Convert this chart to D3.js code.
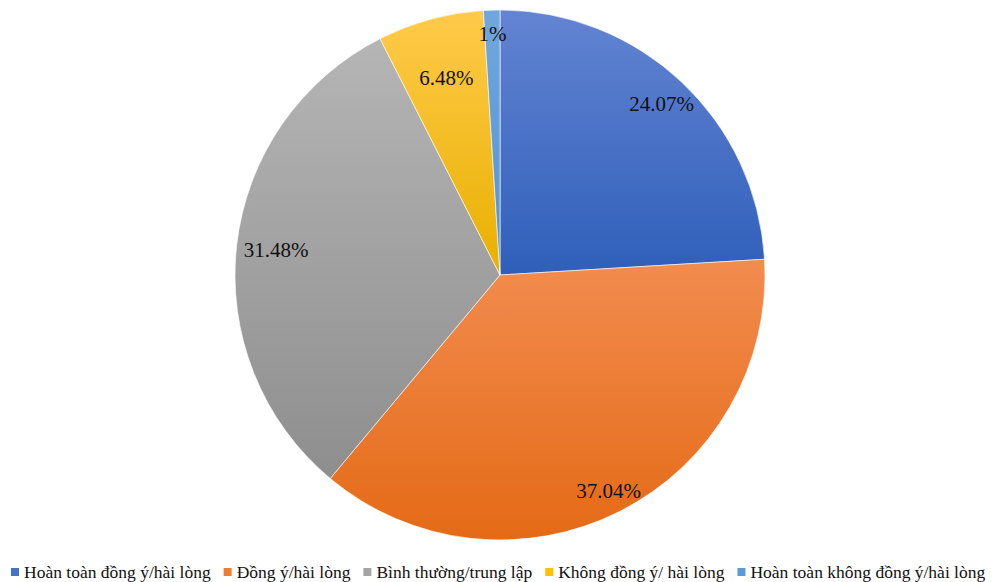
<!DOCTYPE html>
<html>
<head>
<meta charset="utf-8">
<script src="https://cdn.jsdelivr.net/npm/d3@7"></script>
<style>
  body { margin: 0; background: #fff; }
</style>
</head>
<body>
<div id="plot"></div>
<script>
var categories = ["Hoàn toàn đồng ý/hài lòng", "Đồng ý/hài lòng", "Bình thường/trung lập", "Không đồng ý/ hài lòng", "Hoàn toàn không đồng ý/hài lòng"];
var values = [24.07, 37.04, 31.48, 6.48, 1];
var valueLabels = ["24.07%", "37.04%", "31.48%", "6.48%", "1%"];
var baseColors = ["#4472c4", "#ed7d31", "#a5a5a5", "#ffc000", "#5b9bd5"];
var topColors = ["#6384d2", "#f28c4f", "#b5b5b5", "#ffca4a", "#70a7de"];
var bottomColors = ["#2f5fba", "#e46a16", "#8e8e8e", "#e8b000", "#5592cf"];
var labelRadius = [0.89, 0.91, 0.85, 0.77, 0.91];

var serif = "'Liberation Serif', 'Times New Roman', Times, 'DejaVu Serif', serif";

plotPie();

function plotPie() {
    var width = 1002;
    var height = 582;
    var cx = 500, cy = 275, radius = 265;

    var svg = d3.select("#plot").append("svg").attr("width", width).attr("height", height);
    var defs = svg.append("defs");

    baseColors.forEach(function(c, i) {
        var g = defs.append("linearGradient")
            .attr("id", "grad" + i)
            .attr("x1", 0).attr("y1", 0).attr("x2", 0).attr("y2", 1);
        g.append("stop").attr("offset", "0%").attr("stop-color", topColors[i]);
        g.append("stop").attr("offset", "100%").attr("stop-color", bottomColors[i]);
    });

    var pie = d3.pie().sort(null).value(function(d) { return d; });
    var arcs = pie(values);
    var arc = d3.arc().innerRadius(0).outerRadius(radius);

    var g = svg.append("g").attr("transform", "translate(" + cx + "," + cy + ")");

    g.selectAll("path")
        .data(arcs)
        .enter()
        .append("path")
        .attr("d", arc)
        .attr("fill", function(d, i) { return "url(#grad" + i + ")"; })
        .attr("stroke", "#fff")
        .attr("stroke-width", 0.6);

    g.selectAll("text.lbl")
        .data(arcs)
        .enter()
        .append("text")
        .attr("class", "lbl")
        .attr("transform", function(d, i) {
            var a = (d.startAngle + d.endAngle) / 2;
            var r = radius * labelRadius[i];
            return "translate(" + (Math.sin(a) * r) + "," + (-Math.cos(a) * r) + ")";
        })
        .attr("text-anchor", "middle")
        .attr("dy", "0.35em")
        .style("font-family", serif)
        .attr("font-size", 21)
        .attr("fill", "#111")
        .text(function(d, i) { return valueLabels[i]; });

    // legend
    var legend = svg.append("g").attr("transform", "translate(11,572)");
    var x = 0;
    categories.forEach(function(name, i) {
        var item = legend.append("g").attr("transform", "translate(" + x + ",0)");
        item.append("rect").attr("x", 0).attr("y", -4).attr("width", 8).attr("height", 8)
            .attr("fill", baseColors[i]);
        var t = item.append("text").attr("x", 13).attr("y", 6)
            .style("font-family", serif)
            .attr("font-size", 17.5).attr("fill", "#111").text(name);
        x += 13 + t.node().getComputedTextLength() + 13;
    });
}
</script>
</body>
</html>
